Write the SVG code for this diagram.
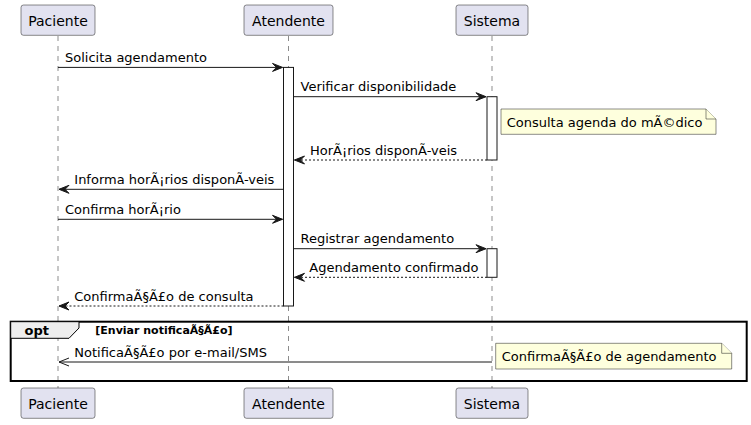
<svg xmlns="http://www.w3.org/2000/svg" width="751" height="425" viewBox="0 0 751 425">
<defs>
<style>
text{font-family:"DejaVu Sans","Liberation Sans",sans-serif;fill:#000}
.p rect{fill:#E2E2F0;stroke:#181818;stroke-width:0.5}
.p text{font-size:14px;text-anchor:middle}
.life{stroke:#181818;stroke-width:0.5;stroke-dasharray:5,5}
.act{fill:#fff;stroke:#181818;stroke-width:1}
.msg{stroke:#181818;stroke-width:1;fill:none}
.ret{stroke:#181818;stroke-width:1;fill:none;stroke-dasharray:2,2}
.m{font-size:13px}
.note path{fill:#FEFFDD;stroke:#181818;stroke-width:0.5}
</style>
<marker id="ah" viewBox="0 0 12 10" refX="11" refY="5" markerWidth="12" markerHeight="10" markerUnits="userSpaceOnUse" orient="auto">
<path d="M1,1 L11,5 L1,9 L5,5 Z" fill="#181818" stroke="#181818" stroke-width="1"/>
</marker>
<marker id="oh" viewBox="0 0 12 10" refX="11" refY="5" markerWidth="12" markerHeight="10" markerUnits="userSpaceOnUse" orient="auto">
<path d="M1,1 L11,5 L1,9" fill="none" stroke="#181818" stroke-width="1"/>
</marker>
</defs>
<rect width="751" height="425" fill="#fff"/>
<g id="lifelines">
<line class="life" x1="58" y1="36" x2="58" y2="388"/>
<line class="life" x1="288.5" y1="36" x2="288.5" y2="388"/>
<line class="life" x1="492" y1="36" x2="492" y2="388"/>
</g>
<g id="Paciente" class="p">
<rect x="21" y="5" width="74" height="30.3" rx="2.5"/>
<text x="58" y="26">Paciente</text>
<rect x="21" y="388" width="74" height="30.3" rx="2.5"/>
<text x="58" y="409">Paciente</text>
</g>
<g id="Atendente" class="p">
<rect x="244" y="5" width="89" height="30.3" rx="2.5"/>
<text x="288.5" y="26">Atendente</text>
<rect x="244" y="388" width="89" height="30.3" rx="2.5"/>
<text x="288.5" y="409">Atendente</text>
</g>
<g id="Sistema" class="p">
<rect x="456" y="5" width="72" height="30.3" rx="2.5"/>
<text x="492" y="26">Sistema</text>
<rect x="456" y="388" width="72" height="30.3" rx="2.5"/>
<text x="492" y="409">Sistema</text>
</g>
<g id="activations">
<rect class="act" x="283.5" y="67.4" width="10" height="238.6"/>
<rect class="act" x="487" y="96.7" width="10" height="63.3"/>
<rect class="act" x="487" y="248.7" width="10" height="28.6"/>
</g>
<g id="connectors">
<line class="msg" x1="58" y1="67.4" x2="282.5" y2="67.4" marker-end="url(#ah)"/>
<text class="m" x="65" y="62">Solicita agendamento</text>
<line class="msg" x1="293.5" y1="96.7" x2="486" y2="96.7" marker-end="url(#ah)"/>
<text class="m" x="300.5" y="91.3">Verificar disponibilidade</text>
<line class="ret" x1="487" y1="160" x2="294.5" y2="160" marker-end="url(#ah)"/>
<text class="m" x="310" y="154.6">HorÃ¡rios disponÃ-veis</text>
<line class="msg" x1="283.5" y1="189.3" x2="59" y2="189.3" marker-end="url(#ah)"/>
<text class="m" x="74.3" y="183.9">Informa horÃ¡rios disponÃ-veis</text>
<line class="msg" x1="58" y1="219.3" x2="282.5" y2="219.3" marker-end="url(#ah)"/>
<text class="m" x="65" y="213.9">Confirma horÃ¡rio</text>
<line class="msg" x1="293.5" y1="248.7" x2="486" y2="248.7" marker-end="url(#ah)"/>
<text class="m" x="300.5" y="243.3">Registrar agendamento</text>
<line class="ret" x1="487" y1="277.3" x2="294.5" y2="277.3" marker-end="url(#ah)"/>
<text class="m" x="309.3" y="271.9">Agendamento confirmado</text>
<line class="ret" x1="283.5" y1="306" x2="59" y2="306" marker-end="url(#ah)"/>
<text class="m" x="74.3" y="300.6">ConfirmaÃ§Ã£o de consulta</text>
<line class="msg" x1="492" y1="362" x2="59" y2="362" marker-end="url(#oh)"/>
<text class="m" x="74.3" y="356.6">NotificaÃ§Ã£o por e-mail/SMS</text>
</g>
<g id="note1" class="note">
<path d="M501,109 L706,109 L716,119 L716,134.3 L501,134.3 Z"/>
<path d="M706,109 L706,119 L716,119"/>
<text class="m" x="506.7" y="126.5">Consulta agenda do mÃ©dico</text>
</g>
<g id="opt">
<rect x="10.7" y="321.7" width="736" height="59.3" fill="none" stroke="#000" stroke-width="2"/>
<path d="M10.7,321.7 L79,321.7 L79,328 L69,338.3 L10.7,338.3 Z" fill="#EEEEEE" stroke="#000" stroke-width="1"/>
<text x="24.5" y="335" font-size="13" font-weight="bold">opt</text>
<text x="95.3" y="334" font-size="11" font-weight="bold">[Enviar notificaÃ§Ã£o]</text>
</g>
<g id="note2" class="note">
<path d="M495.7,343.3 L721.7,343.3 L731.7,353.3 L731.7,369 L495.7,369 Z"/>
<path d="M721.7,343.3 L721.7,353.3 L731.7,353.3"/>
<text class="m" x="501.7" y="361">ConfirmaÃ§Ã£o de agendamento</text>
</g>
</svg>
